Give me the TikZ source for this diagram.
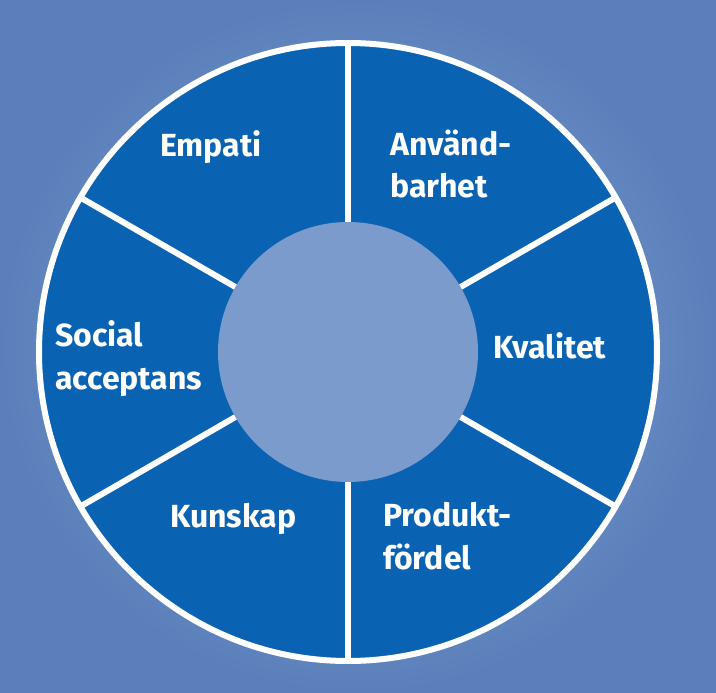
\documentclass[tikz,border=0pt]{standalone}
\usepackage{fontspec}
\setmainfont{Fira Sans}
\usetikzlibrary{calc}
\definecolor{segblue}{HTML}{0A62B3}
\definecolor{holeblue}{HTML}{7A9BCB}
\definecolor{bglight}{HTML}{8CA8D6}
\definecolor{bgdark}{HTML}{5A7FBA}
\tikzset{
  lbl/.style={anchor=base west, inner sep=0pt, text=white,
    font=\fontsize{32}{43}\selectfont\bfseries},
  sep/.style={draw=white, line width=6pt}
}
\newcommand{\twoline}[2]{\begin{tabular}[t]{@{}l@{}}#1\\#2\end{tabular}}
\begin{document}
\begin{tikzpicture}[x=1pt,y=-1pt]
  \useasboundingbox (0,0) rectangle (716,693);
  \shade[inner color=bglight, outer color=bgdark] (0,0) rectangle (716,693);
  \coordinate (c) at (348,352);
  % ring
  \fill[segblue] (c) circle[radius=309];
  \draw[white, line width=6pt] (c) circle[radius=309];
  \foreach \a in {90,30,-30,-90,150,210}{
    \draw[sep] ($(c)+(\a:125)$) -- ($(c)+(\a:309)$);
  }
  \fill[holeblue] (c) circle[radius=130];
  % labels
  \node[lbl] (empati) at (160,157) {Empati};
  \node[lbl] (anv) at (390,155) {\twoline{Använd-}{barhet}};
  \node[lbl] (kval) at (493,358) {Kvalitet};
  \node[lbl] (social) at (55,346) {\twoline{Social}{acceptans}};
  \node[lbl] (kunskap) at (170,527) {Kunskap};
  \node[lbl] (prod) at (383,526) {\twoline{Produkt-}{fördel}};
\end{tikzpicture}
\end{document}
